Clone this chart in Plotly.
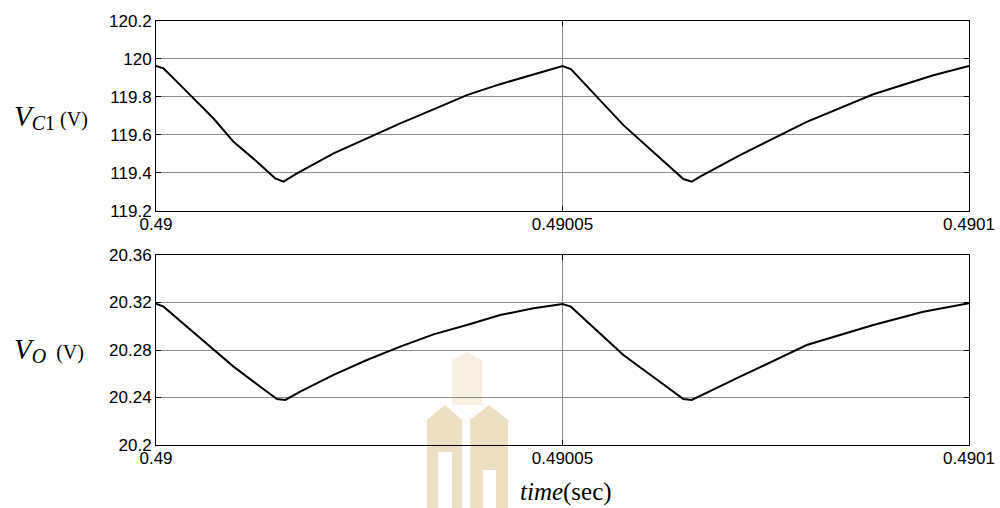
import plotly.graph_objects as go

# time offsets in microseconds from t0 = 0.49 s
t0 = 0.49
vc1_us = [0, 0.93, 2.99, 4.62, 7.08, 9.54, 12.42, 14.67, 15.69, 17.34, 21.84, 25.94,
          30.04, 34.13, 38.24, 42.33, 46.43, 50.0, 51.03, 57.49, 64.87, 65.9, 66.92,
          71.84, 80.04, 88.23, 95.61, 100.0]
vc1 = [119.963, 119.950, 119.862, 119.792, 119.686, 119.563, 119.458, 119.370, 119.353,
       119.397, 119.502, 119.581, 119.660, 119.734, 119.809, 119.867, 119.919, 119.962,
       119.946, 119.651, 119.367, 119.353, 119.379, 119.493, 119.668, 119.814, 119.914,
       119.963]

vo_us = [0, 0.93, 6.68, 9.54, 12.83, 14.88, 15.9, 17.74, 21.84, 25.94, 30.04, 34.13,
         38.24, 42.33, 46.43, 50.0, 51.03, 57.49, 64.87, 65.9, 71.84, 80.04, 88.23,
         94.38, 100.0]
vo = [20.319, 20.3165, 20.2828, 20.266, 20.249, 20.2387, 20.2379, 20.245, 20.259,
      20.2716, 20.2828, 20.2932, 20.301, 20.3095, 20.3151, 20.3187, 20.3165, 20.2758,
      20.2387, 20.2379, 20.2575, 20.2842, 20.301, 20.3122, 20.3193]

x_ticks = [0.49, 0.49005, 0.4901]
x_labels = ["0.49", "0.49005", "0.4901"]
vc1_ticks = [119.2, 119.4, 119.6, 119.8, 120.0, 120.2]
vc1_labels = ["119.2", "119.4", "119.6", "119.8", "120", "120.2"]
vo_ticks = [20.2, 20.24, 20.28, 20.32, 20.36]
vo_labels = ["20.2", "20.24", "20.28", "20.32", "20.36"]

t_vc1 = [t0 + u * 1e-6 for u in vc1_us]
t_vo = [t0 + u * 1e-6 for u in vo_us]

W, H = 1000, 508
ML, MR, MT, MB = 156, 31, 21, 63
PW, PH = W - ML - MR, H - MT - MB

def px(x):
    return (x - ML) / PW

def py(y):
    return (H - MB - y) / PH

fig = go.Figure()
fig.add_trace(go.Scatter(x=t_vc1, y=vc1, mode="lines", line=dict(color="black", width=2),
                         xaxis="x", yaxis="y", showlegend=False, hoverinfo="skip"))
fig.add_trace(go.Scatter(x=t_vo, y=vo, mode="lines", line=dict(color="black", width=2),
                         xaxis="x2", yaxis="y2", showlegend=False, hoverinfo="skip"))

tickfont = dict(family="Liberation Sans, Arial, sans-serif", size=17, color="black")
axcommon = dict(showline=True, linecolor="black", linewidth=1, mirror="ticks",
                ticks="inside", ticklen=5, tickcolor="black", tickwidth=1,
                showgrid=True, gridcolor="#8c8c8c", gridwidth=1, zeroline=False,
                tickfont=tickfont, automargin=False)

top_dom = [py(210.7), 1.0]
bot_dom = [0.0, py(255)]

fig.update_layout(
    width=W, height=H,
    margin=dict(l=ML, r=MR, t=MT, b=MB, autoexpand=False),
    paper_bgcolor="white", plot_bgcolor="white",
    xaxis=dict(domain=[0, 1], anchor="y", range=[0.49, 0.4901], tickvals=x_ticks,
               ticktext=x_labels, ticklabelstandoff=-2, **axcommon),
    yaxis=dict(domain=top_dom, anchor="x", range=[119.2, 120.2], tickvals=vc1_ticks,
               ticktext=vc1_labels, **axcommon),
    xaxis2=dict(domain=[0, 1], anchor="y2", range=[0.49, 0.4901], tickvals=x_ticks,
                ticktext=x_labels, ticklabelstandoff=-2, **axcommon),
    yaxis2=dict(domain=bot_dom, anchor="x2", range=[20.2, 20.36], tickvals=vo_ticks,
                ticktext=vo_labels, **axcommon),
)

serif = "Liberation Serif, Times New Roman, serif"
fig.add_annotation(
    x=px(12), y=py(117), xref="paper", yref="paper", xanchor="left", yanchor="middle",
    showarrow=False, font=dict(family=serif, size=20, color="black"),
    text="<span style='font-size:29px'><i>V</i></span><sub><span style='font-size:20px'><i>C</i>1</span></sub> (V)",
)
fig.add_annotation(
    x=px(12), y=py(350), xref="paper", yref="paper", xanchor="left", yanchor="middle",
    showarrow=False, font=dict(family=serif, size=20, color="black"),
    text="<span style='font-size:29px'><i>V</i></span><sub><span style='font-size:20px'><i>O</i></span></sub>  (V)",
)

# watermark (light beige logo)
wm_paths = [
    ("M 427 508 L 427 420 L 445 405 L 462 420 L 462 508 L 452 508 L 452 452 L 438 452 L 438 508 Z", "#ecdfc2"),
    ("M 470 508 L 470 420 L 489 405 L 508 420 L 508 508 L 496 508 L 496 470 L 483 470 L 483 508 Z", "#ecdfc2"),
    ("M 452 405 L 452 360 L 467 352 L 482 360 L 482 405 Z", "#f6efe2"),
]
for pth, col in wm_paths:
    toks = pth.split()
    out = []
    i = 0
    while i < len(toks):
        tk = toks[i]
        if tk in ("M", "L"):
            xv = px(float(toks[i + 1]))
            yv = py(float(toks[i + 2]))
            out.append(f"{tk} {xv:.5f} {yv:.5f}")
            i += 3
        else:
            out.append(tk)
            i += 1
    fig.add_shape(type="path", path=" ".join(out), xref="paper", yref="paper",
                  fillcolor=col, line=dict(width=0), layer="below")

fig.add_annotation(
    x=px(566), y=py(492), xref="paper", yref="paper", xanchor="center", yanchor="middle",
    showarrow=False, font=dict(family=serif, size=25, color="black"),
    text="<i>time</i>(sec)",
)

fig.write_html(
    "out.html",
    config={"displayModeBar": False, "staticPlot": True},
    post_script="document.body.style.margin='0';document.body.style.padding='0';"
                "document.documentElement.style.overflow='hidden';",
)
